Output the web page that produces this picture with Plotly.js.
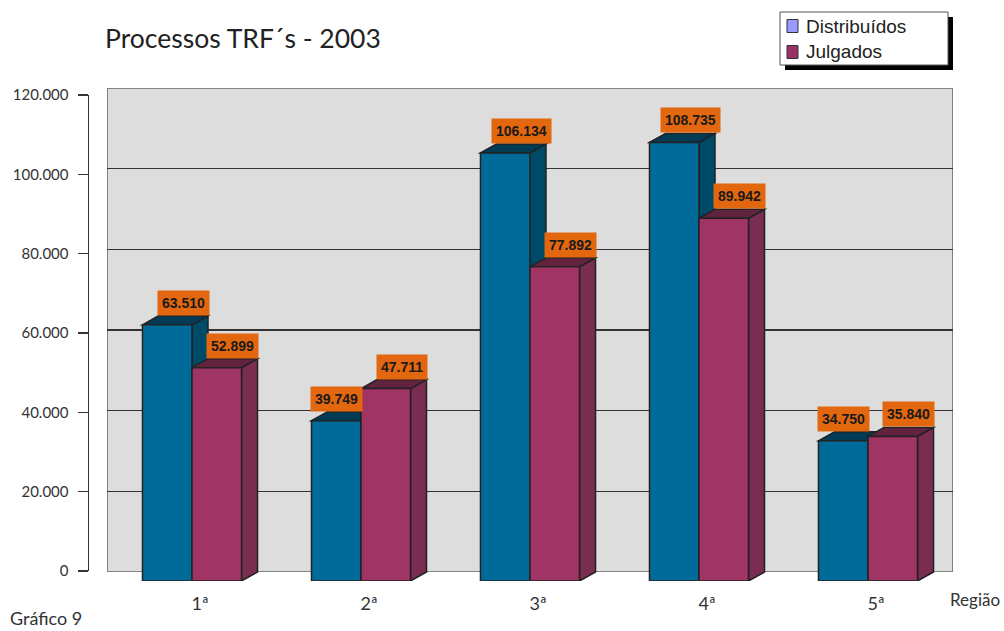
<!DOCTYPE html>
<html><head><meta charset="utf-8">
<script src="https://cdn.plot.ly/plotly-3.0.1.min.js"></script>
<style>html,body{margin:0;padding:0;background:#fff}</style>
</head><body><div id="chart" style="width:1004px;height:631px"></div>
<script>
// ---- data ----
const categories = ['1ª', '2ª', '3ª', '4ª', '5ª'];
const seriesNames = ['Distribuídos', 'Julgados'];
const distribuidos = [63510, 39749, 106134, 108735, 34750];
const julgados = [52899, 47711, 77892, 89942, 35840];
const yTicks = [0, 20000, 40000, 60000, 80000, 100000, 120000];
const chartTitle = 'Processos TRF´s - 2003';
const xAxisName = 'Região';
const footNote = 'Gráfico 9';

// ---- geometry / style ----
const W = 1004, H = 631;
const fx = px => px / W, fy = py => 1 - py / H;
const catStep = 169;             // px per category
const frontCenter0 = 192;        // px, center of first group on front plane
const backCenter0 = 200;         // px, label center on back wall
const frontBase = 581, frontTopPx = 40;
const pxPerUnit = 484 / 120000;
const depth = {x: 16, y: 9};     // px
const bargap = 0.414;
const halfBar = (1 - bargap) / 4;
const dxU = depth.x / catStep, dyU = depth.y / pxPerUnit;

const colors = {
  front: ['#006B99', '#A03565'],
  top: ['#003C55', '#62233F'],
  side: ['#004A69', '#7A2C51'],
  legend: ['#9999FF', '#993366'],
  outline: '#222222'
};
const fmt = v => String(v).replace(/\B(?=(\d{3})+(?!\d))/g, '.');
const series = [distribuidos, julgados];
const idx = categories.map((c, i) => i);

const traces = [];
series.forEach((vals, s) => {
  traces.push({
    type: 'bar', x: idx, y: vals, xaxis: 'x2', yaxis: 'y2', name: seriesNames[s],
    marker: {color: colors.front[s], line: {color: colors.outline, width: 1.5}},
    showlegend: false, hoverinfo: 'skip'
  });
});
// dummy trace for the visible value axis
traces.push({type: 'scatter', x: [], y: [], xaxis: 'x3', yaxis: 'y3', showlegend: false, hoverinfo: 'skip'});

const shapes = [];
// back wall
const wallX = [(107 - backCenter0) / catStep, (953 - backCenter0) / catStep];
shapes.push({type: 'rect', xref: 'x', yref: 'y', x0: wallX[0], x1: wallX[1], y0: 0, y1: 120000,
  fillcolor: '#DDDDDD', line: {color: '#666', width: 1.5}, layer: 'below'});
// 3D faces (top & side) for each bar
series.forEach((vals, s) => {
  vals.forEach((v, i) => {
    const xl = i + (s === 0 ? -2 * halfBar : 0);
    const xr = xl + 2 * halfBar;
    const P = (x, y) => x + ',' + y;
    shapes.push({type: 'path', xref: 'x2', yref: 'y2', layer: 'between',
      path: 'M' + P(xr, 0) + 'L' + P(xr + dxU, dyU) + 'L' + P(xr + dxU, v + dyU) + 'L' + P(xr, v) + 'Z',
      fillcolor: colors.side[s], line: {color: colors.outline, width: 1.5}});
    shapes.push({type: 'path', xref: 'x2', yref: 'y2', layer: 'between',
      path: 'M' + P(xl, v) + 'L' + P(xl + dxU, v + dyU) + 'L' + P(xr + dxU, v + dyU) + 'L' + P(xr, v) + 'Z',
      fillcolor: colors.top[s], line: {color: colors.outline, width: 1.5}});
  });
});
// legend box (Excel style, with drop shadow)
const leg = {x0: 780, x1: 948, y0: 12, y1: 65, shadow: 5};
shapes.push({type: 'rect', xref: 'paper', yref: 'paper', x0: fx(leg.x0 + leg.shadow), x1: fx(leg.x1 + leg.shadow),
  y0: fy(leg.y0 + leg.shadow), y1: fy(leg.y1 + leg.shadow), fillcolor: '#000', line: {width: 0}});
shapes.push({type: 'rect', xref: 'paper', yref: 'paper', x0: fx(leg.x0), x1: fx(leg.x1),
  y0: fy(leg.y0), y1: fy(leg.y1), fillcolor: '#fff', line: {color: '#555', width: 1}});

const annotations = [];
seriesNames.forEach((name, s) => {
  const cy = 26 + s * 26;
  shapes.push({type: 'rect', xref: 'paper', yref: 'paper', x0: fx(787), x1: fx(798),
    y0: fy(cy - 6.5), y1: fy(cy + 6.5), fillcolor: colors.legend[s], line: {color: '#333', width: 1}});
  annotations.push({xref: 'paper', yref: 'paper', x: fx(804), y: fy(cy), xanchor: 'left', yanchor: 'middle',
    showarrow: false, text: name, font: {family: 'Liberation Sans, Arial, sans-serif', size: 19, color: '#222'}});
});
series.forEach((vals, s) => {
  vals.forEach((v, i) => {
    const center = i + (s === 0 ? -halfBar : halfBar);
    const hidden = s === 0 && julgados[i] > v;
    annotations.push({
      xref: 'x2', yref: 'y2', x: hidden ? center : center + dxU, y: v + dyU,
      xanchor: 'center', yanchor: 'bottom', showarrow: false, text: fmt(v),
      bgcolor: '#E3670F', borderpad: 4,
      font: {family: 'Liberation Sans, Arial, sans-serif', size: 14, weight: 'bold', color: '#1a1a1a'}
    });
  });
});
annotations.push({xref: 'paper', yref: 'paper', x: fx(948), y: fy(599), xanchor: 'left', yanchor: 'middle',
  showarrow: false, text: xAxisName, font: {family: 'Lato, sans-serif', size: 17, color: '#333'}});
annotations.push({xref: 'paper', yref: 'paper', x: fx(8), y: fy(618), xanchor: 'left', yanchor: 'middle',
  showarrow: false, text: footNote, font: {family: 'Lato, sans-serif', size: 18, color: '#333'}});

const layout = {
  width: W, height: H, margin: {l: 0, r: 0, t: 0, b: 0},
  paper_bgcolor: '#fff', plot_bgcolor: 'rgba(0,0,0,0)',
  separators: ',.', barmode: 'group', bargap: bargap, bargroupgap: 0,
  showlegend: false,
  title: {text: chartTitle, x: fx(105), xanchor: 'left', y: fy(39), yanchor: 'middle',
    font: {family: 'Lato, sans-serif', size: 26.5, color: '#222'}},
  // back wall
  xaxis: {domain: [fx(107), fx(953)], range: wallX, anchor: 'y', showgrid: false, zeroline: false,
    showline: false, tickmode: 'array', tickvals: idx, ticktext: categories, ticks: 'outside', ticklen: 0,
    ticklabelstandoff: 15, tickfont: {family: 'Lato, sans-serif', size: 18, color: '#333'}, fixedrange: true},
  yaxis: {domain: [fy(572), fy(88)], range: [0, 120000], anchor: 'x', showgrid: true, gridcolor: '#333',
    gridwidth: 1.3, tickvals: yTicks, showticklabels: false, zeroline: false, showline: false, ticks: '', fixedrange: true},
  // front plane for bars
  xaxis2: {domain: [fx(91), fx(960)], range: [(91 - frontCenter0) / catStep, (960 - frontCenter0) / catStep],
    anchor: 'y2', visible: false, fixedrange: true},
  yaxis2: {domain: [fy(frontBase), fy(frontTopPx)], range: [0, (frontBase - frontTopPx) / pxPerUnit],
    anchor: 'x2', visible: false, fixedrange: true},
  // visible value axis
  xaxis3: {domain: [fx(89), fx(90)], anchor: 'y3', visible: false, fixedrange: true},
  yaxis3: {domain: [fy(571), fy(95)], range: [0, 120000], anchor: 'x3', side: 'left', showline: true,
    linecolor: '#333', linewidth: 1.5, ticks: 'outside', ticklen: 10, tickwidth: 1.5, tickcolor: '#333',
    tickmode: 'array', tickvals: yTicks, tickformat: ',d', showgrid: false, zeroline: false,
    ticklabelstandoff: 6, tickfont: {family: 'Lato, sans-serif', size: 15, color: '#333'}, fixedrange: true},
  shapes: shapes, annotations: annotations
};

Plotly.newPlot('chart', traces, layout, {displayModeBar: false, staticPlot: true});
</script></body></html>
